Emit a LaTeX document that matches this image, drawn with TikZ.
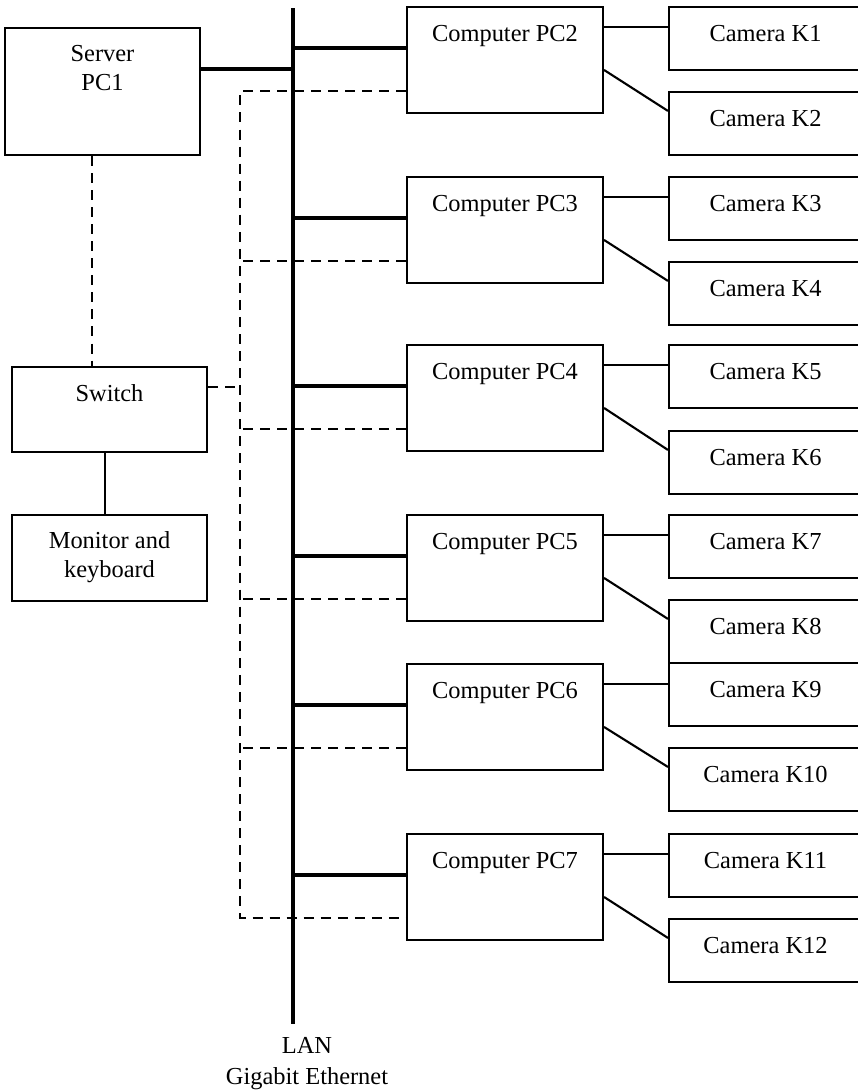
\documentclass[tikz,border=0pt]{standalone}
\usepackage{fontspec}
\setmainfont{Liberation Serif}
\usetikzlibrary{calc}

\tikzset{
  txtfont/.style={font=\fontsize{13.9}{16}\selectfont},
  box/.style={draw, line width=1.2pt, inner sep=0pt, align=center, txtfont, text height=0.68cm},
  srvbox/.style={box, minimum width=3.9cm, minimum height=2.54cm, text height=1.24cm, text depth=1.30cm},
  swbox/.style={box, minimum width=3.9cm, minimum height=1.7cm, text depth=1.02cm},
  monbox/.style={box, minimum width=3.9cm, minimum height=1.72cm, text height=1.24cm, text depth=0.48cm},
  pcbox/.style={box, minimum width=3.92cm, minimum height=2.12cm, text depth=1.44cm},
  cambox/.style={box, minimum width=3.86cm, minimum height=1.26cm, text depth=0.58cm},
  lan/.style={line width=2.3pt},
  link/.style={line width=1.2pt},
  dsh/.style={line width=1.3pt, dash pattern=on 5.7pt off 4pt}
}

\begin{document}
\begin{tikzpicture}[x=0.02cm, y=-0.02cm]
  \path[use as bounding box, fill=white] (0,0) rectangle (858,1092);

  % left column
  \node[srvbox] (srv) at (102.5,91.5) {Server\\PC1};
  \node[swbox] (sw) at (109.5,409.5) {Switch};
  \node[monbox] (mon) at (109.5,558) {Monitor and\\keyboard};

  % computers
  \node[pcbox] (pc2) at (505,60) {Computer PC2};
  \node[pcbox] (pc3) at (505,230) {Computer PC3};
  \node[pcbox] (pc4) at (505,398) {Computer PC4};
  \node[pcbox] (pc5) at (505,568) {Computer PC5};
  \node[pcbox] (pc6) at (505,717) {Computer PC6};
  \node[pcbox] (pc7) at (505,887) {Computer PC7};

  % cameras
  \node[cambox] (k1) at (765.5,38.5) {Camera K1};
  \node[cambox] (k2) at (765.5,123.5) {Camera K2};
  \node[cambox] (k3) at (765.5,208.5) {Camera K3};
  \node[cambox] (k4) at (765.5,293.5) {Camera K4};
  \node[cambox] (k5) at (765.5,376.5) {Camera K5};
  \node[cambox] (k6) at (765.5,462.5) {Camera K6};
  \node[cambox] (k7) at (765.5,546.5) {Camera K7};
  \node[cambox] (k8) at (765.5,631.5) {Camera K8};
  \node[cambox] (k9) at (765.5,694.5) {Camera K9};
  \node[cambox] (k10) at (765.5,779.5) {Camera K10};
  \node[cambox] (k11) at (765.5,865.5) {Camera K11};
  \node[cambox] (k12) at (765.5,950.5) {Camera K12};

  % LAN bus
  \coordinate (bt) at (293,8);
  \coordinate (bb) at (293,1024);
  \coordinate (dv) at (240,92);
  \draw[lan] (bt) -- (bb);
  \node[font=\fontsize{13.9}{17.6}\selectfont, align=center, inner sep=0pt] (lan) at (307,1064) {LAN\\Gigabit Ethernet};

  % server, switch, monitor
  \draw[lan] ($(srv.north east)+(0,42)$) coordinate (s1) -- (s1 -| bt);
  \draw[dsh] ($(srv.south west)+(88,0)$) coordinate (s2) -- (s2 |- sw.north);
  \draw[dsh] ($(sw.north east)+(0,21)$) coordinate (s3) -- (s3 -| dv);
  \draw[link] ($(sw.south west)+(94,0)$) coordinate (s4) -- (s4 |- mon.north);

  % computers to bus
  \draw[lan] ($(pc2.north west)+(0,42)$) coordinate (l2) -- (l2 -| bt);
  \draw[lan] ($(pc3.north west)+(0,42)$) coordinate (l3) -- (l3 -| bt);
  \draw[lan] ($(pc4.north west)+(0,42)$) coordinate (l4) -- (l4 -| bt);
  \draw[lan] ($(pc5.north west)+(0,42)$) coordinate (l5) -- (l5 -| bt);
  \draw[lan] ($(pc6.north west)+(0,42)$) coordinate (l6) -- (l6 -| bt);
  \draw[lan] ($(pc7.north west)+(0,42)$) coordinate (l7) -- (l7 -| bt);

  % computers to switch (dashed)
  \coordinate (d2) at ($(pc2.north west)+(0,85)$);
  \coordinate (d7) at ($(pc7.north west)+(0,85)$);
  \draw[dsh] (d2) -- (d2 -| dv) -- (d7 -| dv) -- (d7);
  \draw[dsh] ($(pc3.north west)+(0,85)$) coordinate (d3) -- (d3 -| dv);
  \draw[dsh] ($(pc4.north west)+(0,85)$) coordinate (d4) -- (d4 -| dv);
  \draw[dsh] ($(pc5.north west)+(0,85)$) coordinate (d5) -- (d5 -| dv);
  \draw[dsh] ($(pc6.north west)+(0,85)$) coordinate (d6) -- (d6 -| dv);

  % computers to cameras
  \draw[link] ($(pc2.north east)+(0,21)$) coordinate (c1) -- (c1 -| k1.west);
  \draw[link] ($(pc2.north east)+(0,64)$) -- ($(k2.north west)+(0,20)$);
  \draw[link] ($(pc3.north east)+(0,21)$) coordinate (c3) -- (c3 -| k3.west);
  \draw[link] ($(pc3.north east)+(0,64)$) -- ($(k4.north west)+(0,20)$);
  \draw[link] ($(pc4.north east)+(0,21)$) coordinate (c5) -- (c5 -| k5.west);
  \draw[link] ($(pc4.north east)+(0,64)$) -- ($(k6.north west)+(0,20)$);
  \draw[link] ($(pc5.north east)+(0,21)$) coordinate (c7) -- (c7 -| k7.west);
  \draw[link] ($(pc5.north east)+(0,64)$) -- ($(k8.north west)+(0,20)$);
  \draw[link] ($(pc6.north east)+(0,21)$) coordinate (c9) -- (c9 -| k9.west);
  \draw[link] ($(pc6.north east)+(0,64)$) -- ($(k10.north west)+(0,20)$);
  \draw[link] ($(pc7.north east)+(0,21)$) coordinate (c11) -- (c11 -| k11.west);
  \draw[link] ($(pc7.north east)+(0,64)$) -- ($(k12.north west)+(0,20)$);
\end{tikzpicture}
\end{document}
